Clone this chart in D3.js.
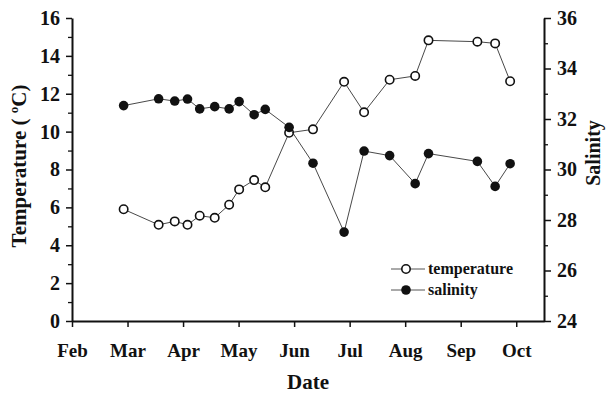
<!DOCTYPE html>
<html><head><meta charset="utf-8">
<script src="https://cdn.jsdelivr.net/npm/d3@7"></script>
<style>
body{margin:0;background:#fff;}
svg{display:block;}
</style></head>
<body>
<svg id="c" width="607" height="394"></svg>
<script>
// month position: months since Feb 1 (Feb = 0)
const months = ["Feb","Mar","Apr","May","Jun","Jul","Aug","Sep","Oct"];
const samplePos = [0.93,1.56,1.85,2.08,2.30,2.57,2.83,3.01,3.28,3.48,3.91,4.34,4.90,5.26,5.72,6.18,6.42,7.30,7.62,7.89];
const temperature = [5.9,5.08,5.26,5.08,5.56,5.45,6.14,6.95,7.44,7.06,9.94,10.12,12.63,11.02,12.74,12.94,14.82,14.75,14.66,12.66];
const salinity = [32.53,32.80,32.71,32.79,32.40,32.49,32.40,32.69,32.17,32.38,31.67,30.25,27.52,30.73,30.55,29.44,30.63,30.32,29.33,30.23];
const tempTicks = [0,2,4,6,8,10,12,14,16];
const salTicks = [24,26,28,30,32,34,36];

const FONT = '"Liberation Serif", "DejaVu Serif", "Times New Roman", Times, serif';
const svg = d3.select("#c").style("font-family",FONT).style("font-weight","bold");
const L = 72, R = 544, T = 18, B = 321;
const x = d3.scaleLinear().domain([0, 8.5]).range([L, R]);
const yT = d3.scaleLinear().domain([0, 16]).range([B, T]);
const yS = d3.scaleLinear().domain([24, 36]).range([B, T]);

// minor ticks
svg.append("g").attr("transform",`translate(${L},0)`)
  .call(d3.axisLeft(yT).tickValues(d3.range(1,16,2)).tickSize(4).tickFormat(""))
  .call(g=>g.select(".domain").remove())
  .selectAll("line").attr("stroke","#111").attr("stroke-width",1.3);
svg.append("g").attr("transform",`translate(${R},0)`)
  .call(d3.axisRight(yS).tickValues(d3.range(25,36,2)).tickSize(4).tickFormat(""))
  .call(g=>g.select(".domain").remove())
  .selectAll("line").attr("stroke","#111").attr("stroke-width",1.3);

// left axis
const gl = svg.append("g").attr("transform",`translate(${L},0)`)
  .call(d3.axisLeft(yT).tickValues(tempTicks).tickSize(6).tickSizeOuter(0).tickPadding(6).tickFormat(d3.format("d")));
// right axis
const gr = svg.append("g").attr("transform",`translate(${R},0)`)
  .call(d3.axisRight(yS).tickValues(salTicks).tickSize(7).tickSizeOuter(0).tickPadding(6).tickFormat(d3.format("d")));
// bottom axis
const gb = svg.append("g").attr("transform",`translate(0,${B})`)
  .call(d3.axisBottom(x).tickValues(d3.range(months.length)).tickSize(6).tickSizeOuter(0).tickPadding(17)
    .tickFormat(i=>months[i]));

[gl,gr,gb].forEach((g,k)=>{
  g.attr("font-family",FONT).attr("font-size",k===2?19:20);
  g.select(".domain").attr("stroke","#111").attr("stroke-width",2);
  g.selectAll(".tick line").attr("stroke","#111").attr("stroke-width",1.5);
  g.selectAll(".tick text").attr("font-family",FONT).attr("font-weight","bold")
    .attr("font-size",k===2?19:20).attr("fill","#111");
});

// axis titles
svg.append("text").attr("x",(L+R)/2).attr("y",389).attr("text-anchor","middle")
  .attr("font-family",FONT).attr("font-size",21).attr("fill","#111").text("Date");
const lt = svg.append("text").attr("transform","translate(26,166) rotate(-90)").attr("text-anchor","middle")
  .attr("font-family",FONT).attr("font-size",21).attr("fill","#111");
lt.append("tspan").text("Temperature ( ");
lt.append("tspan").attr("font-size",13).attr("dy",-8).text("o");
lt.append("tspan").attr("dy",8).text("C)");
svg.append("text").attr("transform","translate(600,153) rotate(-90)").attr("text-anchor","middle")
  .attr("font-family",FONT).attr("font-size",20).attr("fill","#111").text("Salinity");

const data = samplePos.map((p,i)=>({p, t:temperature[i], s:salinity[i]}));

// temperature
svg.append("path").datum(data).attr("fill","none").attr("stroke","#333").attr("stroke-width",0.9)
  .attr("d", d3.line().x(d=>x(d.p)).y(d=>yT(d.t)));
svg.selectAll(".tc").data(data).join("circle").attr("cx",d=>x(d.p)).attr("cy",d=>yT(d.t)).attr("r",4.2)
  .attr("fill","#fff").attr("stroke","#111").attr("stroke-width",1.6);

// salinity
svg.append("path").datum(data).attr("fill","none").attr("stroke","#333").attr("stroke-width",0.9)
  .attr("d", d3.line().x(d=>x(d.p)).y(d=>yS(d.s)));
svg.selectAll(".sc").data(data).join("circle").attr("cx",d=>x(d.p)).attr("cy",d=>yS(d.s)).attr("r",4.8)
  .attr("fill","#111");

// legend
const leg = svg.append("g");
[["temperature",269,false],["salinity",290,true]].forEach(([lab,yy,filled])=>{
  leg.append("line").attr("x1",391).attr("x2",425).attr("y1",yy).attr("y2",yy).attr("stroke","#555").attr("stroke-width",1);
  leg.append("circle").attr("cx",406).attr("cy",yy).attr("r",filled?4.8:4.2)
    .attr("fill",filled?"#111":"#fff").attr("stroke","#111").attr("stroke-width",filled?0:1.6);
  leg.append("text").attr("x",428).attr("y",yy+5).attr("font-family",FONT).attr("font-size",16).attr("fill","#111").text(lab);
});
</script>
</body></html>
